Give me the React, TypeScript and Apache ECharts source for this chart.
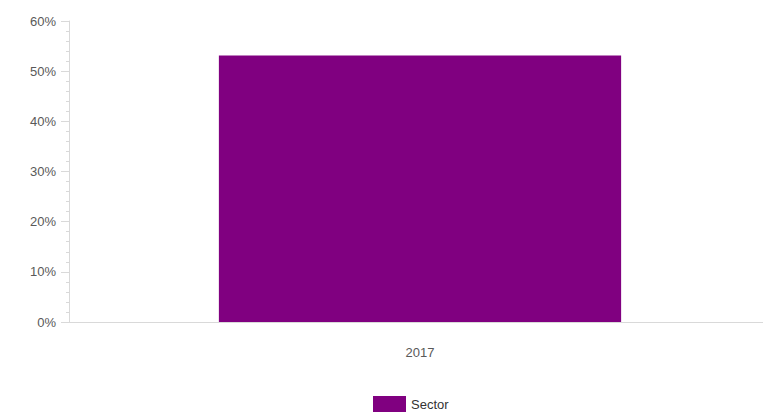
import React, { useEffect, useRef } from "react";
import * as echarts from "echarts";

const categories = ["2017"];
const seriesName = "Sector";
const seriesValues = [53.1];
const yTicks = { min: 0, max: 60, interval: 10 };

export default function App() {
  const ref = useRef<HTMLDivElement>(null);
  useEffect(() => {
    if (!ref.current) return;
    const chart = echarts.init(ref.current, null, { renderer: "svg" });
    chart.setOption({
      animation: false,
      textStyle: { fontFamily: "Liberation Sans, Arial, sans-serif" },
      grid: { left: 69, right: 0, top: 21, bottom: 90, containLabel: false },
      legend: {
        data: [seriesName],
        left: 373,
        top: 396,
        padding: 0,
        itemWidth: 33,
        itemHeight: 17,
        itemGap: 8,
        icon: "rect",
        textStyle: { color: "#333", fontSize: 13, fontFamily: "Liberation Sans, Arial, sans-serif" },
      },
      xAxis: {
        type: "category",
        data: categories,
        axisLine: { lineStyle: { color: "#d9d9d9", width: 1 } },
        axisTick: { show: false },
        axisLabel: { color: "#595959", fontSize: 13, margin: 24 },
      },
      yAxis: {
        type: "value",
        min: yTicks.min,
        max: yTicks.max,
        interval: yTicks.interval,
        axisLine: { show: true, lineStyle: { color: "#d9d9d9", width: 1 } },
        axisTick: { show: true, length: 8, lineStyle: { color: "#d9d9d9" } },
        minorTick: { show: true, splitNumber: 5, length: 3, lineStyle: { color: "#d9d9d9" } },
        splitLine: { show: false },
        axisLabel: { color: "#595959", fontSize: 13, margin: 13, formatter: "{value}%" },
      },
      series: [
        {
          name: seriesName,
          type: "bar",
          data: seriesValues,
          barWidth: "57.3%",
          itemStyle: { color: "#800080" },
        },
      ],
    });
    return () => chart.dispose();
  }, []);
  return (
    <div style={{ position: "absolute", left: 0, top: 0, width: 763, height: 412, overflow: "hidden" }}>
      <div ref={ref} style={{ width: 771, height: 412 }} />
    </div>
  );
}
